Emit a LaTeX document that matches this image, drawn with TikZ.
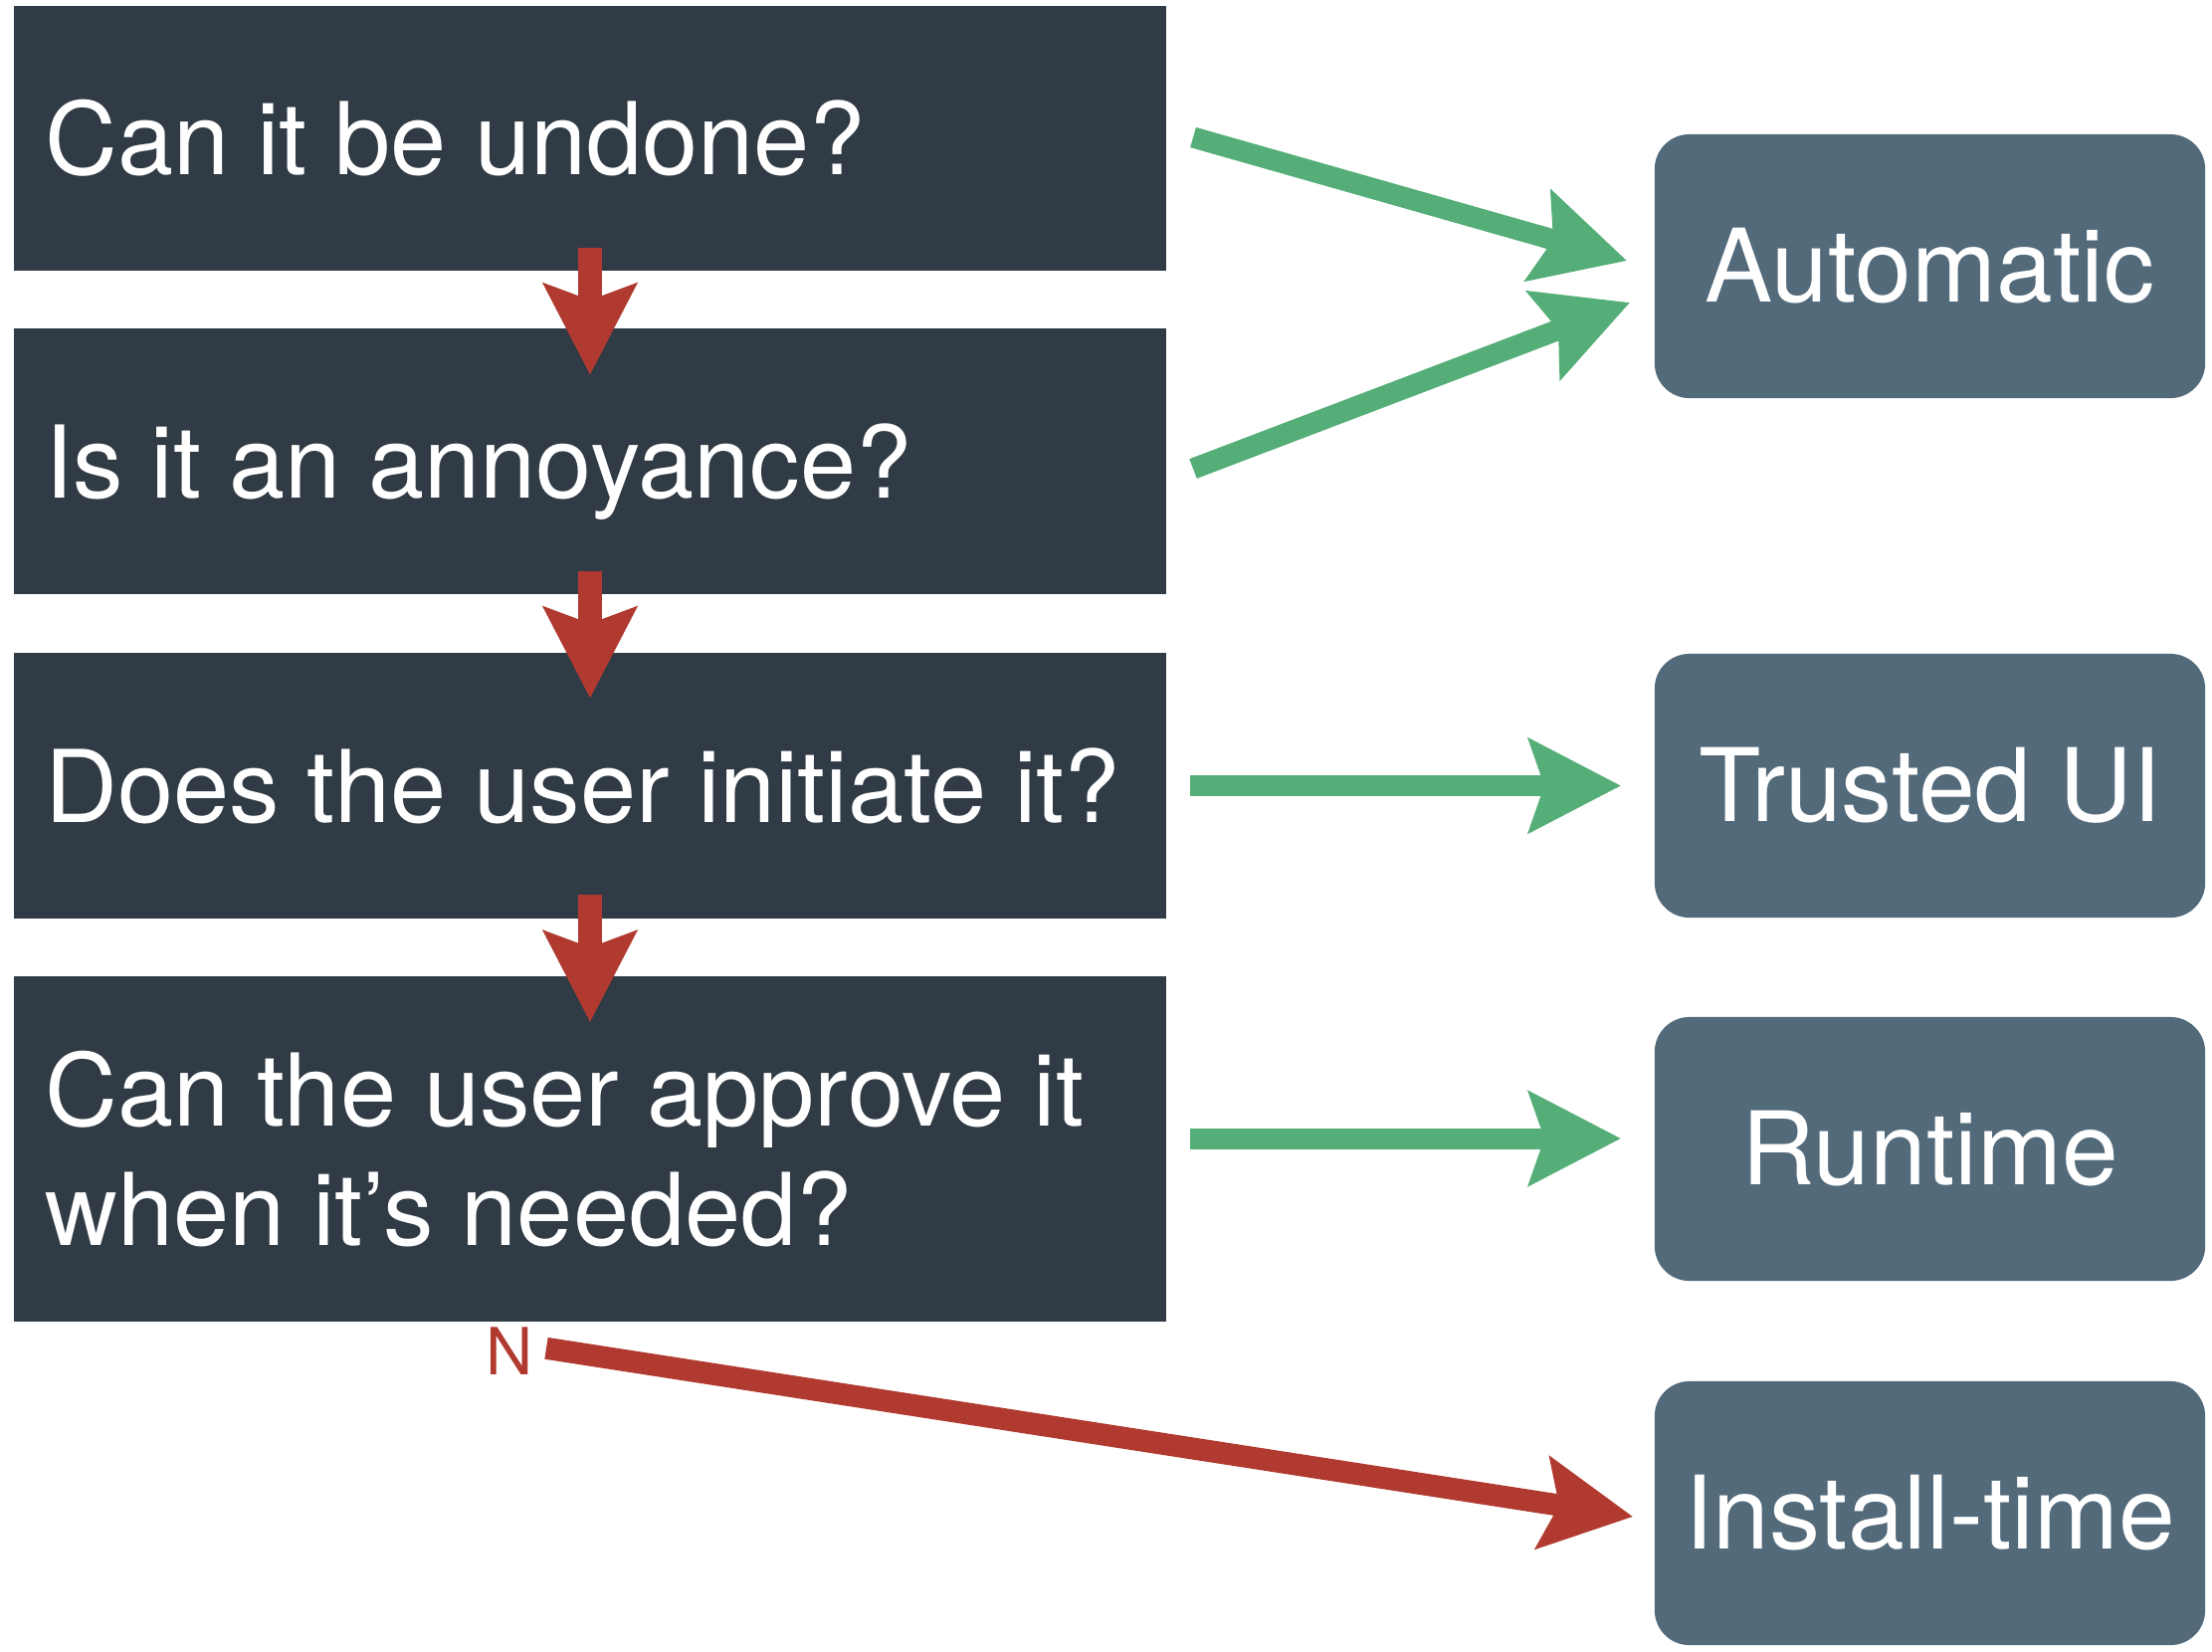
\documentclass[tikz,border=0pt]{standalone}
\usepackage{fontspec}
\setmainfont{TeX Gyre Heros}
\usetikzlibrary{arrows.meta,calc}
\definecolor{questionbg}{HTML}{303B45}
\definecolor{answerbg}{HTML}{536A7B}
\definecolor{yesgreen}{HTML}{55AE78}
\definecolor{nored}{HTML}{B03A2F}

\begin{document}
\begin{tikzpicture}[x=0.01cm, y=-0.01cm]
    \tikzstyle{question}=[rectangle, fill=questionbg, text=white, minimum height=2.66cm,
                          inner xsep=0.315cm, text width=10.95cm, align=flush left,
                          font=\fontsize{28.7}{34}\selectfont]
    \tikzstyle{answer}=[rectangle, rounded corners=0.35cm, fill=answerbg, text=white,
                        minimum width=5.53cm, minimum height=2.65cm,
                        font=\fontsize{29}{34}\selectfont]
    \tikzstyle{yesarrow}=[draw=yesgreen, line width=0.21cm,
                          -{Stealth[length=0.92cm, width=0.93cm, inset=0.15cm]}]
    \tikzstyle{noarrow}=[draw=nored, line width=0.24cm,
                         -{Stealth[length=0.91cm, width=0.92cm, inset=0.16cm]}]

    \useasboundingbox (0,0) rectangle (2223,1659);

    \node[question] (undo)     at (593,139)    {Can it be undone?};
    \node[question, text depth=0pt] (annoy) at (593,463.5) {Is it an annoyance?};
    \node[question] (initiate) at (593,789.5)  {Does the user initiate it?};
    \node[question, minimum height=3.47cm] (approve) at (593,1154.5)
        {Can the user approve it\\when it’s needed?};

    \node[answer] (automatic) at (1939.5,267.5)  {Automatic};
    \node[answer] (trusted)   at (1939.5,789.5)  {Trusted UI};
    \node[answer] (runtime)   at (1939.5,1154.5) {Runtime};
    \node[answer] (install)   at (1939.5,1520.5) {Install-time};

    \draw[noarrow] ($(undo.south)+(0,-24)$)     -- ($(annoy.north)+(0,47)$);
    \draw[noarrow] ($(annoy.south)+(0,-23)$)    -- ($(initiate.north)+(0,46)$);
    \draw[noarrow] ($(initiate.south)+(0,-24)$) -- ($(approve.north)+(0,47)$);

    \draw[yesarrow] ($(undo.east)+(26,-1)$)       -- ($(automatic.west)+(-27,-5.5)$);
    \draw[yesarrow] ($(annoy.east)+(26,7.5)$)     -- ($(automatic.west)+(-24,36.5)$);
    \draw[yesarrow] ($(initiate.east)+(23,0)$)    -- ($(trusted.west)+(-33,0)$);
    \draw[yesarrow] ($(approve.east)+(23,-10.5)$) -- ($(runtime.west)+(-33,-10.5)$);

    \draw[noarrow, line width=0.22cm] ($(approve.south)+(-44,26)$) -- ($(install.west)+(-21,3.5)$);
    \node[text=nored, font=\fontsize{18.6}{20}\selectfont] (nmark) at (512,1358) {N};

\end{tikzpicture}
\end{document}
